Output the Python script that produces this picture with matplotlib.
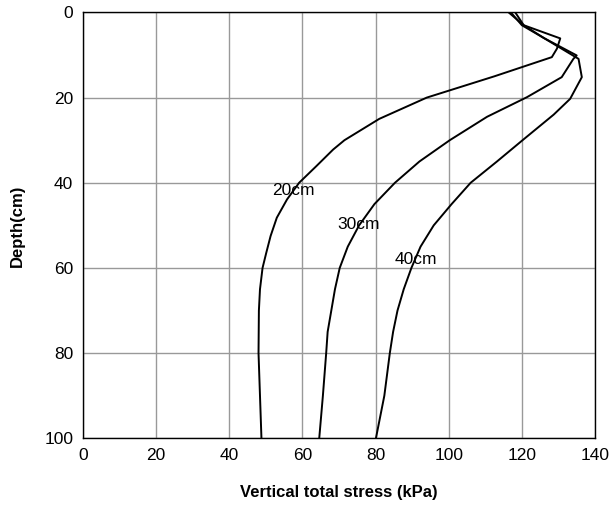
import matplotlib
matplotlib.use("Agg")
import matplotlib.pyplot as plt

plt.rcParams['font.family'] = ['Liberation Sans', 'DejaVu Sans']

# depth (cm) and vertical total stress (kPa) for each curve
depth20 = [0, 3, 6.1, 8.5, 10.5, 15, 20, 25, 30, 32.2, 36.1, 40, 43.9, 48.2, 52.5, 56.5, 60, 65, 70,
           80, 90, 100]
stress20 = [116.4, 120.5, 130.5, 129.6, 128.2, 112.5, 94, 81, 71.5, 68.4, 63.8, 59.1, 55.8, 53.0,
            51.3, 50.1, 49.1, 48.4, 48.1, 48.0, 48.4, 48.8]

depth30 = [0, 3, 6, 10.1, 10.9, 15.2, 19.9, 24.5, 30, 35, 40, 45, 50, 55, 60, 65, 70, 75, 80, 90, 100]
stress30 = [118.2, 120.5, 126, 135, 134.1, 130.9, 121.4, 110.5, 100.3, 92, 85.3, 79.7, 75.5, 72.4,
            70.2, 68.9, 67.9, 66.9, 66.5, 65.6, 64.6]

depth40 = [0, 3, 6, 10.9, 15.2, 20.3, 24, 30, 35, 40, 45, 50, 55, 60, 65, 70, 75, 80, 90, 100]
stress40 = [117, 120, 126, 135.5, 136.4, 133.2, 128.7, 120.2, 113.2, 106, 100.8, 95.9, 92.3, 89.8, 87.7,
            86, 84.8, 83.9, 82.4, 80.1]

curve_labels = ['20cm', '30cm', '40cm']
label_x = [51.7, 69.6, 85.1]
label_y = [41.7, 49.8, 58.0]

xticks = [0, 20, 40, 60, 80, 100, 120, 140]
yticks = [0, 20, 40, 60, 80, 100]

fig = plt.figure(figsize=(6.11, 5.07), dpi=100)
ax = fig.add_axes([0.1358, 0.1355, 0.838, 0.840])

for x, y in [(stress20, depth20), (stress30, depth30), (stress40, depth40)]:
    ax.plot(x, y, color='black', lw=1.4)

for txt, x, y in zip(curve_labels, label_x, label_y):
    ax.text(x, y, txt, fontsize=12.5, ha='left', va='center')

ax.set_xlim(0, 140)
ax.set_ylim(100, 0)
ax.set_xticks(xticks)
ax.set_yticks(yticks)
ax.grid(True, color='#999999', lw=1)
ax.set_axisbelow(True)
ax.tick_params(length=0, labelsize=12.5, pad=7)
for s in ax.spines.values():
    s.set_color('black')
    s.set_linewidth(1)

ax.set_xlabel('Vertical total stress (kPa)', fontsize=12, fontweight='bold', labelpad=16)
ax.set_ylabel('Depth(cm)', fontsize=12, fontweight='bold', labelpad=14)

fig.savefig('out.png', dpi=100)
